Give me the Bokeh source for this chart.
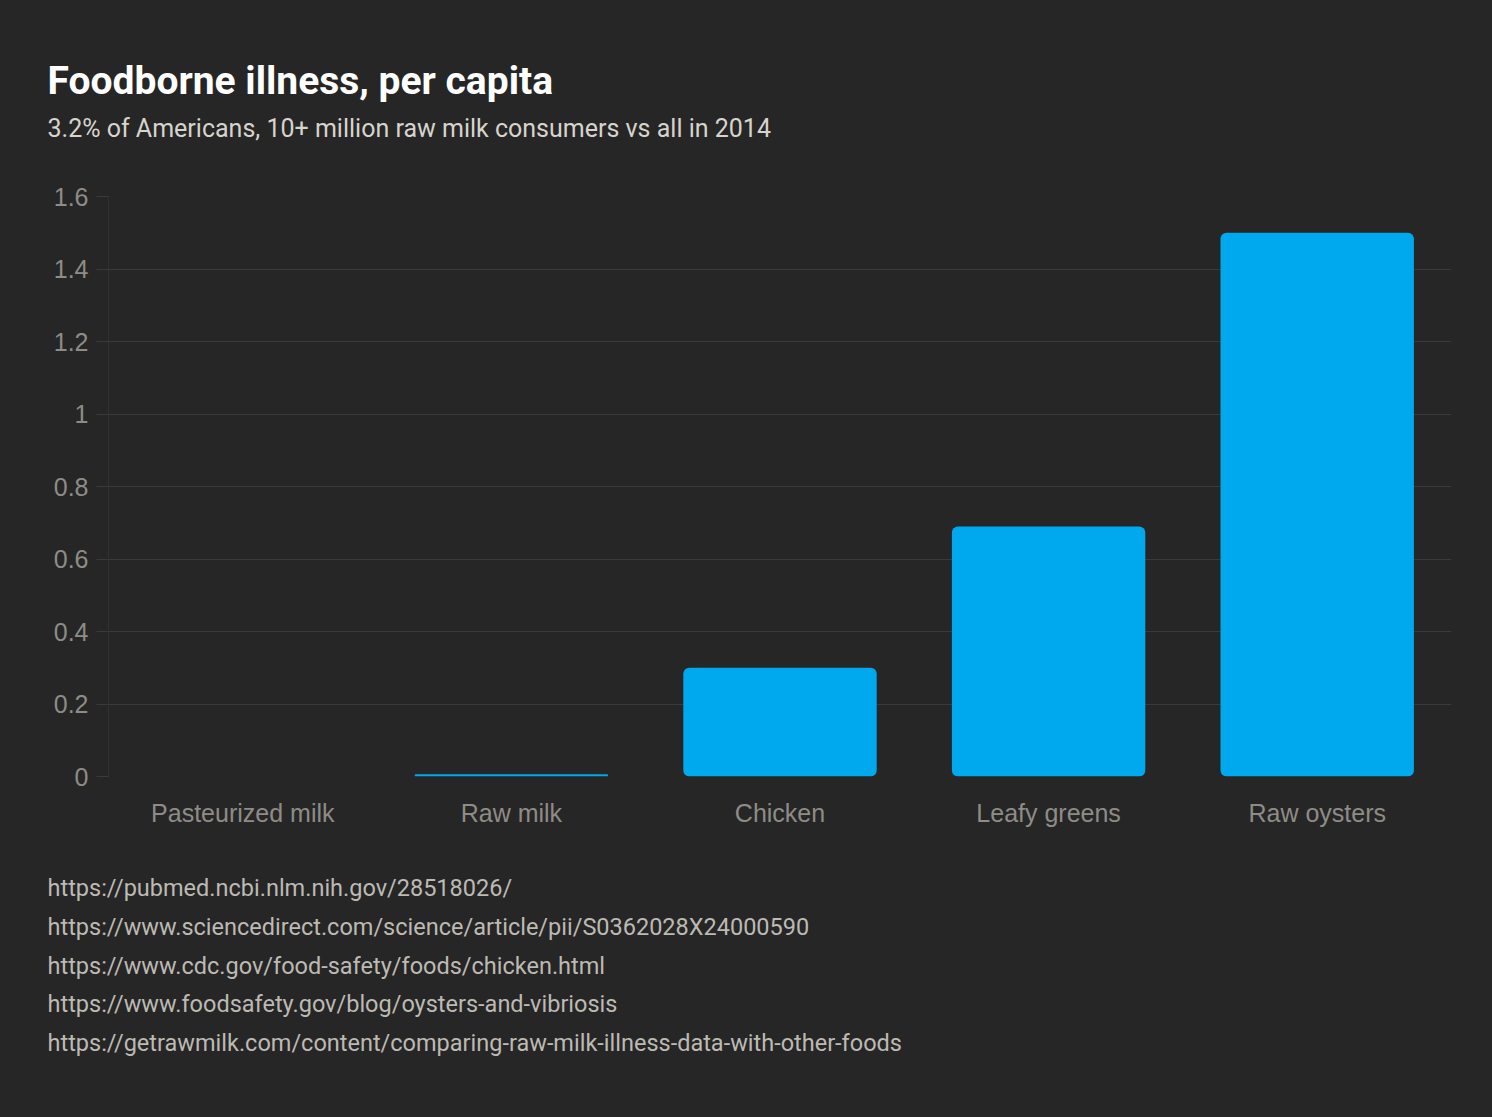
from bokeh.plotting import figure
from bokeh.layouts import column
from bokeh.models import NumeralTickFormatter, ColumnDataSource, FixedTicker, Range1d
from bokeh.core.properties import value
from bokeh.embed import file_html
from bokeh.resources import INLINE

categories = ["Pasteurized milk", "Raw milk", "Chicken", "Leafy greens", "Raw oysters"]
values = [0.0, 0.006, 0.30, 0.69, 1.50]
y_ticks = [0, 0.2, 0.4, 0.6, 0.8, 1.0, 1.2, 1.4, 1.6]
title_text = "Foodborne illness, per capita"
subtitle_text = "3.2% of Americans, 10+ million raw milk consumers vs all in 2014"
sources = [
    "https://pubmed.ncbi.nlm.nih.gov/28518026/",
    "https://www.sciencedirect.com/science/article/pii/S0362028X24000590",
    "https://www.cdc.gov/food-safety/foods/chicken.html",
    "https://www.foodsafety.gov/blog/oysters-and-vibriosis",
    "https://getrawmilk.com/content/comparing-raw-milk-illness-data-with-other-foods",
]

BG = "#262626"
W = 1476
HEAD_H, MAIN_H, FOOT_H = 170, 680, 251
L = 108
FRAME_TOP, FRAME_BOTTOM, FRAME_RIGHT = 196, 776, 1451  # page pixels
YMAX = 1.6
BASE_FIX = 0.33  # empirical alphabetic-baseline correction (fraction of font size)
TITLE_PX, SUB_PX, SRC_PX = 39, 25, 23.5


def text_panel(h):
    f = figure(width=W, height=h, x_range=Range1d(0, W), y_range=Range1d(h, 0),
               output_backend="svg", toolbar_location=None,
               x_axis_location=None, y_axis_location=None,
               background_fill_color=BG, border_fill_color=BG, outline_line_color=None,
               min_border=0, min_border_left=0, min_border_right=0,
               min_border_top=0, min_border_bottom=0, frame_align=False)
    f.xgrid.visible = False
    f.ygrid.visible = False
    return f


# ---- header
head = text_panel(HEAD_H)
head.text(x=[47], y=[93 - BASE_FIX * TITLE_PX], text=[title_text], text_font=value("Roboto"),
          text_font_size=f"{TITLE_PX}px", text_font_style="bold", text_color="#ffffff",
          text_baseline="alphabetic", text_align="left")
head.text(x=[47], y=[136 - BASE_FIX * SUB_PX], text=[subtitle_text], text_font=value("Roboto"),
          text_font_size=f"{SUB_PX}px", text_color="#d6d4cd",
          text_baseline="alphabetic", text_align="left")

# ---- main chart
top_pad = FRAME_TOP - HEAD_H
bottom_pad = HEAD_H + MAIN_H - FRAME_BOTTOM
p = figure(x_range=categories, y_range=(0, YMAX), width=W, height=MAIN_H,
           output_backend="svg", toolbar_location=None,
           background_fill_color=BG, border_fill_color=BG, outline_line_color=None,
           min_border_left=L, min_border_right=W - FRAME_RIGHT,
           min_border_top=top_pad, min_border_bottom=bottom_pad, frame_align=False)

src = ColumnDataSource(dict(cat=categories, val=values))
p.vbar(x="cat", top="val", width=0.72, source=src, fill_color="#00a9ee",
       line_color=None, border_radius=6)

p.xgrid.grid_line_color = None
p.ygrid.grid_line_color = "#3a3a3a"
p.ygrid.grid_line_width = 1
p.yaxis.ticker = FixedTicker(ticks=y_ticks)
p.yaxis.formatter = NumeralTickFormatter(format="0.[0]")
p.yaxis.axis_line_color = "#303030"
p.yaxis.major_tick_line_color = "#3a3a3a"
p.yaxis.major_tick_out = 12
p.yaxis.major_tick_in = 0
p.yaxis.minor_tick_line_color = None
p.yaxis.major_label_standoff = 8
p.xaxis.axis_line_color = None
p.xaxis.major_tick_line_color = None
p.xaxis.minor_tick_line_color = None
p.xaxis.major_label_standoff = 16
for ax in (p.xaxis, p.yaxis):
    ax.major_label_text_color = "#8e8c86"
    ax.major_label_text_font = "Liberation Sans"
    ax.major_label_text_font_size = "25px"

# ---- footer with sources
foot = text_panel(FOOT_H)
foot_top = HEAD_H + MAIN_H
src_y = [895 + 38.9 * i - foot_top - BASE_FIX * SRC_PX for i in range(len(sources))]
foot.text(x=[47] * len(sources), y=src_y, text=sources, text_font=value("Roboto"),
          text_font_size=f"{SRC_PX}px", text_color="#bcbab3",
          text_baseline="alphabetic", text_align="left")

layout = column(head, p, foot, spacing=0)
html = file_html(layout, INLINE)
html = html.replace("<body>", '<body style="background:%s;">' % BG)
open("out.html", "w").write(html)
